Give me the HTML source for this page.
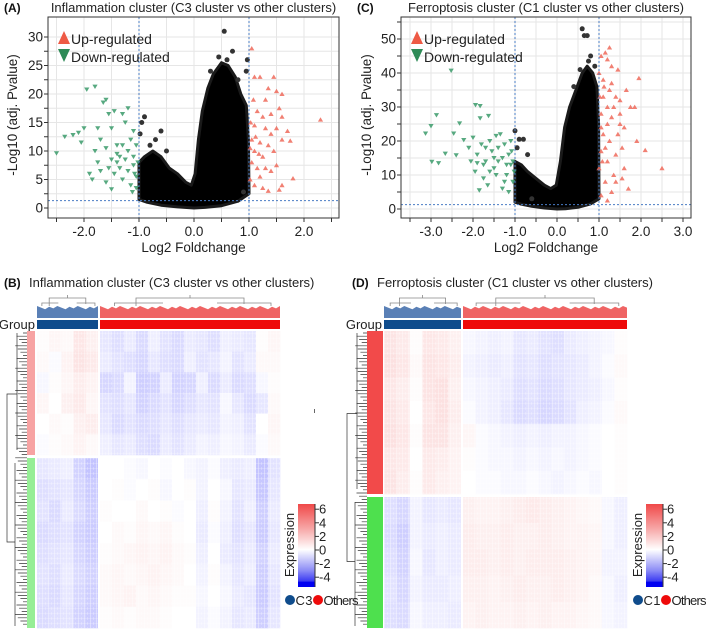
<!DOCTYPE html>
<html><head><meta charset="utf-8"><style>
html,body{margin:0;padding:0;background:#fff;}
svg{display:block;font-family:"Liberation Sans",Arial,sans-serif;}
</style></head><body>
<svg id="fig" width="709" height="631" viewBox="0 0 709 631" xmlns="http://www.w3.org/2000/svg">
<defs>
<linearGradient id="cbar" x1="0" y1="0" x2="0" y2="1">
<stop offset="0" stop-color="#f04848"/><stop offset="0.3" stop-color="#f7a8a8"/><stop offset="0.55" stop-color="#ffffff"/><stop offset="0.8" stop-color="#8c8cf6"/><stop offset="0.93" stop-color="#3a3af2"/><stop offset="0.94" stop-color="#0000f0"/><stop offset="1" stop-color="#0000f0"/>
</linearGradient>
<pattern id="noise" width="6" height="5" patternUnits="userSpaceOnUse">
<rect x="0" y="0" width="1" height="5" fill="#ffffff" opacity="0.35"/><rect x="3" y="2" width="1" height="3" fill="#ffffff" opacity="0.25"/><rect x="0" y="3" width="6" height="1" fill="#ffffff" opacity="0.2"/>
</pattern>
</defs>
<g id="panelA"></g>
<g id="panelC"></g>
<g id="panelB"></g>
<g id="panelD"></g>
</svg>
<script>
// ---------- Volcano A data ----------
const aXTicks = [-2.0,-1.0,0.0,1.0,2.0];
const aXTickLabels = ["-2.0","-1.0","0.0","1.0","2.0"];
const aYTicks = [0,5,10,15,20,25,30];
const aDown = [[-2.5,9.6],[-2.35,12.5],[-2.2,12.8],[-2.1,13.2],[-2.0,14],[-1.95,20.8],[-1.8,21.3],[-1.75,14],[-1.7,12],[-1.65,18.5],[-1.6,19],[-1.55,16.5],[-1.5,14],[-1.45,17],[-1.4,11],[-1.35,9],[-1.3,16.5],[-1.25,15],[-1.2,17.5],[-1.15,12],[-1.1,13.5],[-1.05,11],[-1.9,6],[-1.85,5],[-1.75,8],[-1.7,6.5],[-1.6,4.5],[-1.55,7],[-1.5,8.5],[-1.45,6],[-1.4,9.5],[-1.35,7],[-1.3,5],[-1.25,8.5],[-1.2,6.5],[-1.15,4],[-1.1,7.5],[-1.05,5.5],[-1.05,3.5],[-1.1,9],[-1.2,10],[-1.3,11],[-1.4,8],[-1.6,10.5],[-1.8,10],[-2.05,11.5],[-1.02,8],[-1.08,6],[-1.12,2.8],[-1.5,3.3]];
const aUp = [[1.05,28],[1.1,23],[1.2,23],[1.45,23],[1.5,20.5],[1.3,19],[1.15,17],[1.25,16],[1.4,16.5],[1.55,17.5],[1.6,16],[2.3,15.5],[1.7,13.5],[1.75,11.8],[1.6,12],[1.5,14],[1.3,14],[1.1,14.5],[1.05,12],[1.2,11.5],[1.35,11],[1.45,10],[1.1,10],[1.25,9],[1.05,8],[1.15,7],[1.3,7],[1.4,6.5],[1.2,5.5],[1.1,4],[1.25,3.5],[1.35,3],[1.6,4],[1.55,3.2],[1.8,5.2],[1.5,7.5],[1.02,5],[1.03,15],[1.08,19],[1.4,13],[1.02,10.5],[1.12,12.5],[1.18,9.5],[1.6,20],[1.35,21]];
const aCloudUpper = [[-1.0,1.5],[-1.0,8],[-0.9,9],[-0.75,10],[-0.6,9],[-0.45,7],[-0.3,6],[-0.15,4.5],[-0.05,4],[0.02,6],[0.08,12],[0.15,17],[0.25,21],[0.35,23.5],[0.5,25.5],[0.62,25],[0.75,23],[0.85,20],[0.95,18],[0.99,12],[1.0,3]];
const aCloudLower = [[1.0,2.5],[0.8,1.2],[0.5,0.4],[0.2,0.1],[0.0,0],[-0.3,0.2],[-0.6,0.5],[-0.85,1],[-1.0,1.5]];
const aNs = [[0.55,31],[0.7,27.5],[0.45,26.5],[0.6,26],[-0.9,16],[-0.6,13.5],[-0.7,12],[-0.95,15],[0.97,26],[0.95,24],[0.9,2.8],[-0.8,11],[-0.5,10],[-0.98,13],[0.3,24],[0.8,22.5]];

// ---------- Volcano C data ----------
const cXTicks = [-3.0,-2.0,-1.0,0.0,1.0,2.0,3.0];
const cXTickLabels = ["-3.0","-2.0","-1.0","0.0","1.0","2.0","3.0"];
const cYTicks = [0,10,20,30,40,50];
const cDown = [[-3.13,22.2],[-3.0,24.4],[-2.87,27.6],[-2.98,13.9],[-2.82,13.5],[-2.52,40.7],[-2.66,16.3],[-2.4,15.8],[-2.32,25.2],[-1.94,30.6],[-1.83,30.3],[-1.83,26.7],[-1.63,27.4],[-2.46,22.2],[-2.22,20.3],[-2.1,18],[-2.0,21],[-1.9,16],[-1.8,19],[-1.7,14],[-1.6,20],[-1.5,12],[-1.4,18],[-1.3,15],[-1.2,10],[-1.1,13],[-1.05,8],[-1.95,11],[-1.85,5.5],[-1.75,9],[-1.65,7],[-1.55,17],[-1.45,10],[-1.35,22],[-1.25,19],[-1.15,16],[-1.1,20],[-1.05,14],[-1.02,11],[-1.3,6],[-1.2,13],[-1.4,14],[-1.6,11],[-1.5,15],[-1.25,8],[-1.15,5],[-1.08,17],[-2.05,14],[-1.75,13],[-1.45,21.5],[-1.7,18],[-1.9,13.5]];
const cUp = [[1.05,45],[1.15,46],[1.25,47.5],[1.2,44],[1.0,40],[1.1,38],[1.3,37],[1.95,38.5],[1.65,35],[1.5,32],[1.75,30],[1.85,30],[1.4,33],[1.2,30],[1.05,28],[1.3,27],[1.5,25],[1.6,24],[1.1,22],[1.25,20],[1.45,22],[1.9,20],[2.1,17.3],[2.5,12],[1.7,6],[1.35,10],[1.2,14],[1.05,17],[1.15,8],[1.3,5],[1.05,4],[1.4,16],[1.55,18],[1.6,12],[1.0,12],[1.2,25],[1.35,30],[1.1,33],[1.45,41],[1.3,42],[1.15,18],[1.05,24],[1.25,35],[1.5,28],[1.4,8],[1.55,9],[1.02,33],[1.08,14],[1.2,2.5],[1.12,36]];
const cCloudUpper = [[-1.0,2],[-1.0,14],[-0.85,13],[-0.7,11],[-0.5,9],[-0.3,7],[-0.15,6],[-0.02,7],[0.08,14],[0.18,24],[0.3,30],[0.45,35],[0.6,40],[0.72,42],[0.85,40],[0.95,36],[0.99,25],[1.0,4]];
const cCloudLower = [[1.0,3],[0.8,1.5],[0.5,0.5],[0.2,0.1],[0.0,0],[-0.3,0.3],[-0.6,0.8],[-0.85,1.4],[-1.0,2]];
const cNs = [[0.6,53],[0.65,51],[0.72,51],[0.8,45],[0.75,43.5],[-1.0,23],[-0.9,20.5],[-0.8,20.5],[-0.6,3],[-0.95,18],[0.55,41],[0.9,42],[-0.7,16],[0.4,36]];

// ---------- Heatmap B data (values on expression scale) ----------
const bTop = [
[0.1,0.3,0.2,0.8,0.5,-0.6,-0.8,-0.5,-0.9,-0.4,-0.7,-0.9,-0.5,-0.6,-0.8,-0.4,-0.5,-0.6,0.1,0.3],
[0.2,-0.1,0.4,0.9,0.7,-0.5,-0.7,-0.8,-1.0,-0.6,-0.8,-0.9,-0.4,-0.7,-0.6,-0.3,-0.7,-0.5,0.2,0.2],
[-0.2,0.1,0.3,0.6,0.4,-1.0,-0.9,-0.3,-1.2,-1.1,-0.5,-1.1,-1.0,-0.4,-0.9,-0.5,-0.9,-0.8,-0.2,0.1],
[0.3,0.0,0.5,0.7,0.3,-0.7,-0.8,-0.6,-1.1,-0.9,-0.7,-1.0,-0.8,-0.6,-0.7,-0.2,-0.6,-0.9,-0.6,0.2],
[0.0,0.2,0.1,0.5,0.6,-0.6,-0.9,-0.7,-0.9,-0.8,-0.6,-0.8,-0.6,-0.5,-0.6,-0.3,-0.4,-0.7,0.0,0.3],
[-0.1,0.1,0.2,0.4,0.2,-0.4,-0.6,-0.5,-0.8,-0.9,-0.5,-0.7,-0.5,-0.3,-0.4,-0.2,-0.3,-0.5,-0.1,0.2]];
const bBottom = [
[-0.6,-0.5,-0.4,-1.1,-1.5,0.0,0.0,-0.1,-0.2,0.0,-0.1,0.0,-0.2,-0.3,-0.1,-0.4,-0.5,-0.4,-1.5,-0.7],
[-0.8,-0.7,-0.6,-1.0,-1.3,0.0,0.1,-0.1,0.0,0.1,-0.2,0.0,0.1,-0.3,0.0,-0.2,-0.6,-0.5,-1.4,-0.6],
[-0.7,-0.9,-0.5,-0.9,-1.2,0.1,0.0,0.0,0.2,0.0,0.1,-0.1,0.0,-0.4,0.1,-0.3,-0.7,-0.4,-1.2,-0.5],
[-0.9,-0.8,-0.7,-1.1,-1.3,0.0,0.2,0.1,0.3,0.2,0.3,0.1,0.0,-0.5,-0.1,-0.4,-0.8,-0.6,-1.3,-0.6],
[-0.8,-0.7,-0.6,-1.0,-1.2,0.1,0.2,0.3,0.4,0.3,0.4,0.2,0.1,-0.4,0.0,-0.5,-0.7,-0.5,-1.1,-0.5],
[-0.7,-0.8,-0.5,-0.9,-1.1,0.2,0.3,0.2,0.3,0.4,0.3,0.2,0.0,-0.3,0.1,-0.3,-0.6,-0.4,-1.2,-0.6],
[-0.8,-0.9,-0.6,-1.0,-1.2,0.2,0.3,0.4,0.2,0.3,0.2,0.1,0.1,-0.2,0.0,-0.2,-0.5,-0.6,-1.3,-0.7],
[-0.9,-0.8,-0.7,-1.1,-1.3,0.1,0.2,0.1,0.2,0.2,0.1,0.0,0.0,-0.3,-0.1,-0.3,-0.6,-0.5,-1.2,-0.6]];
// ---------- Heatmap D data ----------
const dTop = [
[0.9,0.7,0.1,0.8,0.7,0.5,-0.2,-0.3,-0.4,-0.3,-0.6,-0.5,-0.7,-0.8,-0.5,-0.4,-0.3,-0.2,0.1],
[1.0,0.8,0.2,0.9,0.8,0.6,-0.3,-0.4,-0.5,-0.4,-0.7,-0.6,-0.8,-0.7,-0.6,-0.5,-0.3,-0.1,0.2],
[0.8,0.6,0.1,0.9,1.0,0.5,-0.2,-0.3,-0.4,-0.5,-0.8,-0.7,-0.9,-0.8,-0.6,-0.5,-0.4,-0.2,0.1],
[0.9,0.7,0.0,0.8,1.0,0.6,-0.1,-0.3,-0.4,-0.6,-0.9,-0.8,-1.0,-0.9,-0.7,-0.4,-0.3,-0.1,0.2],
[1.0,0.8,0.1,0.9,0.9,0.5,0.3,-0.1,-0.2,-0.3,-0.4,-0.3,-0.4,-0.3,-0.3,-0.2,-0.1,0.0,0.1],
[0.8,0.7,0.0,0.7,0.6,0.4,0.1,-0.1,-0.2,-0.2,-0.3,-0.2,-0.3,-0.2,-0.3,-0.2,-0.1,0.0,0.1],
[0.9,0.6,0.1,0.7,0.5,0.4,0.0,-0.1,-0.1,-0.2,-0.2,-0.1,-0.2,-0.3,-0.2,-0.1,-0.2,0.0,0.1]];
const dBottom = [
[-0.8,-1.0,-0.3,-0.6,-0.5,-0.6,0.5,0.4,0.4,0.5,0.6,0.7,0.6,0.5,0.4,0.3,0.2,-0.2,-0.4],
[-0.9,-1.2,-0.3,-0.5,-0.4,-0.5,0.6,0.5,0.5,0.6,0.5,0.5,0.6,0.5,0.4,0.4,0.3,-0.2,-0.4],
[-0.8,-1.1,-0.2,-0.6,-0.4,-0.5,0.6,0.6,0.5,0.6,0.5,0.6,0.6,0.6,0.5,0.4,0.3,-0.3,-0.3],
[-0.7,-1.0,-0.3,-0.5,-0.5,-0.4,0.5,0.5,0.4,0.5,0.6,0.5,0.5,0.6,0.5,0.4,0.2,-0.2,-0.4],
[-0.8,-0.9,-0.2,-0.4,-0.4,-0.5,0.4,0.5,0.4,0.4,0.5,0.4,0.5,0.4,0.4,0.3,0.2,-0.2,-0.3]];
const cbarTicks = [6,4,2,0,-2,-4];

const NS='http://www.w3.org/2000/svg';
function mk(parent,tag,attrs,text){const e=document.createElementNS(NS,tag);for(const k in attrs)e.setAttribute(k,attrs[k]);if(text!==undefined)e.textContent=text;parent.appendChild(e);return e;}

function volcano(g,cfg){
  const xs=v=>cfg.x0+cfg.kx*v, ys=v=>cfg.y0-cfg.ky*v;
  const L=cfg.left,R=cfg.right,T=17,B=218;
  for(let v=-4;v<=4;v+=0.5){const x=xs(v);if(x>L&&x<R){const l=mk(g,'line',{x1:x,x2:x,y1:T,y2:B,stroke:'#e6e6e6','stroke-width':1});}}
  for(let v=0;v<=cfg.ymax;v+=cfg.ystep/2){const y=ys(v);if(y>T&&y<B){const l=mk(g,'line',{x1:L,x2:R,y1:y,y2:y,stroke:'#e6e6e6','stroke-width':1});}}
  const pts=cfg.upper.concat(cfg.lower).map(p=>xs(p[0]).toFixed(1)+','+ys(p[1]).toFixed(1)).join(' ');
  const cl=mk(g,'polygon',{points:pts,fill:'#000',stroke:'#1a1a1a','stroke-width':3,'stroke-linejoin':'round'});
  
  
  cfg.ns.forEach(p=>{const c=mk(g,'circle',{cx:xs(p[0]),cy:ys(p[1]),r:2.5,fill:'#333'});});
  cfg.down.forEach(p=>{const x=xs(p[0]),y=ys(p[1]);const t=mk(g,'polygon',{points:`${x-2.6},${y-2} ${x+2.6},${y-2} ${x},${y+2.4}`,fill:'#3a9a6a',opacity:0.85});});
  cfg.up.forEach(p=>{const x=xs(p[0]),y=ys(p[1]);const t=mk(g,'polygon',{points:`${x-2.6},${y+2} ${x+2.6},${y+2} ${x},${y-2.4}`,fill:'#ee6a5a',opacity:0.85});});
  [-1,1].forEach(v=>{const l=mk(g,'line',{x1:xs(v),x2:xs(v),y1:T,y2:B,stroke:'#4a7cc4','stroke-width':1,'stroke-dasharray':'2,2'});});
  const th=mk(g,'line',{x1:L,x2:R,y1:ys(1.3),y2:ys(1.3),stroke:'#4a7cc4','stroke-width':1,'stroke-dasharray':'2,2'});
  
  const fr=mk(g,'rect',{x:L,y:T,width:R-L,height:B-T,fill:'none',stroke:'#333','stroke-width':1});
  
  for(let v=-4;v<=4;v+=0.5){const x=xs(v);if(x>=L-0.5&&x<=R+0.5){const l=mk(g,'line',{x1:x,x2:x,y1:B,y2:B+4,stroke:'#333'});}}
  cfg.xt.forEach((v,i)=>{const t=mk(g,'text',{x:xs(v),y:236,'text-anchor':'middle','font-size':13.5,fill:'#222'},cfg.xl[i]);});
  for(let v=0;v<=cfg.ymax;v+=cfg.ystep/2){const y=ys(v);if(y>=T){const l=mk(g,'line',{x1:L-4,x2:L,y1:y,y2:y,stroke:'#333'});}}
  cfg.yt.forEach(v=>{const t=mk(g,'text',{x:L-5,y:ys(v)+4.5,'text-anchor':'end','font-size':13.5,fill:'#222'},String(v));});
  const xt=mk(g,'text',{x:(L+R)/2,y:252,'text-anchor':'middle','font-size':13.5,fill:'#222'},'Log2 Foldchange');
  
  const yt=mk(g,'text',{x:0,y:0,'text-anchor':'middle','font-size':13.5,fill:'#222',transform:`translate(${cfg.ytx},115) rotate(-90)`},'-Log10 (adj. Pvalue)');
  
  const lx=L+16;
  const u=mk(g,'polygon',{points:`${lx-6},${44} ${lx+6},${44} ${lx},${31}`,fill:'#ee5a45'});
  const ut=mk(g,'text',{x:lx+7,y:44,'font-size':14,fill:'#222'},'Up-regulated');
  const d=mk(g,'polygon',{points:`${lx-6},${49} ${lx+6},${49} ${lx},${62}`,fill:'#2e8b57'});
  const dt=mk(g,'text',{x:lx+7,y:62,'font-size':14,fill:'#222'},'Down-regulated');
  const pl=mk(g,'text',{x:cfg.labx,y:12,'font-size':12,'font-weight':'bold',fill:'#111'},cfg.lab);
  const ti=mk(g,'text',{x:(L+R)/2,y:12,'text-anchor':'middle','font-size':13,fill:'#222'},cfg.title);
}

volcano(document.getElementById('panelA'),{x0:194,kx:55,y0:208,ky:5.7,left:48,right:339,ymax:32,ystep:5,xt:aXTicks,xl:aXTickLabels,yt:aYTicks,upper:aCloudUpper,lower:aCloudLower,ns:aNs,down:aDown,up:aUp,ytx:17,lab:'(A)',labx:4,title:'Inflammation cluster (C3 cluster vs other clusters)'});
volcano(document.getElementById('panelC'),{x0:557,kx:42,y0:209,ky:3.4,left:401,right:691,ymax:55,ystep:10,xt:cXTicks,xl:cXTickLabels,yt:cYTicks,upper:cCloudUpper,lower:cCloudLower,ns:cNs,down:cDown,up:cUp,ytx:371,lab:'(C)',labx:357,title:'Ferroptosis cluster (C1 cluster vs other clusters)'});

function col(v){
  let r,gg,b;
  if(v>=0){const f=Math.min(v/6.5,1);r=255-15*f;gg=255-190*f;b=255-190*f;}
  else{const f=Math.min(-v/6.5,1);r=255-255*f;gg=255-255*f;b=255;}
  return `rgb(${r|0},${gg|0},${b|0})`;
}

function heatmap(g,cfg){
  const blocks=[[cfg.gx0,cfg.gx1,'#5a80b6'],[cfg.ox0,cfg.ox1,'#ef6464']];
  blocks.forEach((bk,bi)=>{
    const [x0,x1,c]=bk;let p=`M${x0},318 `;const n=Math.round((x1-x0)/4);
    for(let i=0;i<=n;i++){const x=x0+(x1-x0)*i/n;const y=306+((i*7)%5)*0.8;p+=`L${x.toFixed(1)},${y.toFixed(1)} `;}
    p+=`L${x1},318 Z`;
    const f=mk(g,'path',{d:p,fill:c});
    const m=(x0+x1)/2,w=(x1-x0);
    const br=mk(g,'path',{d:`M${x0+w*0.2},306 V298 H${x0+w*0.8} V304 M${m},298 V295 M${x0+w*0.08},306 V303 H${x0+w*0.35} M${x0+w*0.65},303 H${x0+w*0.95} V306`,fill:'none',stroke:'#888','stroke-width':0.8});
    
  });
  const g1=mk(g,'rect',{x:cfg.gx0,y:320,width:cfg.gx1-cfg.gx0,height:9,fill:'#0f4c8c'});
  const g2=mk(g,'rect',{x:cfg.ox0,y:320,width:cfg.ox1-cfg.ox0,height:9,fill:'#ee0a0a'});
  const gl=mk(g,'text',{x:cfg.gx0-2,y:329,'text-anchor':'end','font-size':13,fill:'#222'},'Group');
  [[cfg.top,cfg.ty0,cfg.ty1],[cfg.bottom,cfg.by0,cfg.by1]].forEach(([M,y0,y1])=>{
    const rh=(y1-y0)/M.length;
    M.forEach((row,ri)=>{row.forEach((v,ci)=>{
      let x,w;
      if(ci<cfg.n1){w=(cfg.gx1-cfg.gx0)/cfg.n1;x=cfg.gx0+ci*w;}
      else{w=(cfg.ox1-cfg.ox0)/cfg.n2;x=cfg.ox0+(ci-cfg.n1)*w;}
      const r=mk(g,'rect',{x:x.toFixed(2),y:(y0+ri*rh).toFixed(2),width:(w+0.3).toFixed(2),height:(rh+0.3).toFixed(2),fill:col(v)});
      
      
    });});
    const nz=mk(g,'rect',{x:cfg.gx0,y:y0,width:cfg.ox1-cfg.gx0,height:y1-y0,fill:'url(#noise)'});
    
  });
  const gap=mk(g,'rect',{x:cfg.gx1,y:331,width:cfg.ox0-cfg.gx1,height:cfg.by1-331,fill:'#fff'});
  
  const a1=mk(g,'rect',{x:cfg.ax,y:cfg.ty0,width:cfg.aw,height:cfg.ty1-cfg.ty0,fill:cfg.ac1});
  const a2=mk(g,'rect',{x:cfg.ax,y:cfg.by0,width:cfg.aw,height:cfg.by1-cfg.by0,fill:cfg.ac2});
  let p='';const top=cfg.ty0+2,bot=cfg.by1-2;
  for(let y=top;y<bot;y+=3.2){const k=Math.round((y-top)/3.2);const len=4+((k*5)%7)*1.3;p+=`M${cfg.ax},${y.toFixed(1)} H${(cfg.ax-len).toFixed(1)} `;}
  p+=`M${cfg.ax-10},${top} V${cfg.ty1-5} M${cfg.ax-12},${cfg.by0+5} V${bot} M${cfg.ax-10},${(top+cfg.ty1)/2} H${cfg.ax-20} V${(cfg.by0+bot)/2} H${cfg.ax-12}`;
  const ld=mk(g,'path',{d:p,fill:'none',stroke:'#333','stroke-width':0.7});
  const cb=mk(g,'rect',{x:cfg.cbx,y:504,width:17,height:83,fill:'url(#cbar)'});
  cbarTicks.forEach(v=>{const y=550-6.8*v;const l=mk(g,'line',{x1:cfg.cbx+17,x2:cfg.cbx+21,y1:y,y2:y,stroke:'#333'});
    const t=mk(g,'text',{x:cfg.cbx+21,y:y+4.5,'font-size':13,fill:'#222'},String(v));});
  const cl=mk(g,'line',{x1:cfg.cbx+17,x2:cfg.cbx+17,y1:504,y2:587,stroke:'#333'});
  const et=mk(g,'text',{x:0,y:0,'text-anchor':'middle','font-size':13,fill:'#222',transform:`translate(${cfg.cbx-4},545) rotate(-90)`},'Expression');
  const lx=cfg.cbx-9;
  const c1=mk(g,'circle',{cx:lx+1,cy:600,r:5,fill:'#0f4c8c'});
  const t1=mk(g,'text',{x:lx+6.5,y:605,'font-size':13,fill:'#222',textLength:17},cfg.cname);
  const c2=mk(g,'circle',{cx:lx+29,cy:600,r:5,fill:'#ee0a0a'});
  const t2=mk(g,'text',{x:lx+34.5,y:605,'font-size':13,fill:'#222',textLength:35},'Others');
  const pl=mk(g,'text',{x:cfg.labx,y:287,'font-size':12,'font-weight':'bold',fill:'#111'},cfg.lab);
  const ti=mk(g,'text',{x:cfg.labx+25,y:287,'font-size':13,fill:'#222'},cfg.title);
}

heatmap(document.getElementById('panelB'),{gx0:37,gx1:98,ox0:100,ox1:280,n1:5,n2:15,top:bTop,bottom:bBottom,ty0:331,ty1:455,by0:458,by1:628,ax:27,aw:8,ac1:'#f7a3a3',ac2:'#96ee96',cbx:298,cname:'C3',lab:'(B)',labx:4,title:'Inflammation cluster (C3 cluster vs other clusters)'});
const dm=document.createElementNS(NS,'rect');
dm.setAttribute('x','314');dm.setAttribute('y','409');dm.setAttribute('width','1');dm.setAttribute('height','4');dm.setAttribute('fill','#666');


document.getElementById('panelB').appendChild(dm);
heatmap(document.getElementById('panelD'),{gx0:384,gx1:461,ox0:463,ox1:627,n1:6,n2:13,top:dTop,bottom:dBottom,ty0:331,ty1:494,by0:497,by1:628,ax:367,aw:16,ac1:'#f24a4a',ac2:'#4ee04e',cbx:646,cname:'C1',lab:'(D)',labx:352,title:'Ferroptosis cluster (C1 cluster vs other clusters)'});
</script>
</body></html>
